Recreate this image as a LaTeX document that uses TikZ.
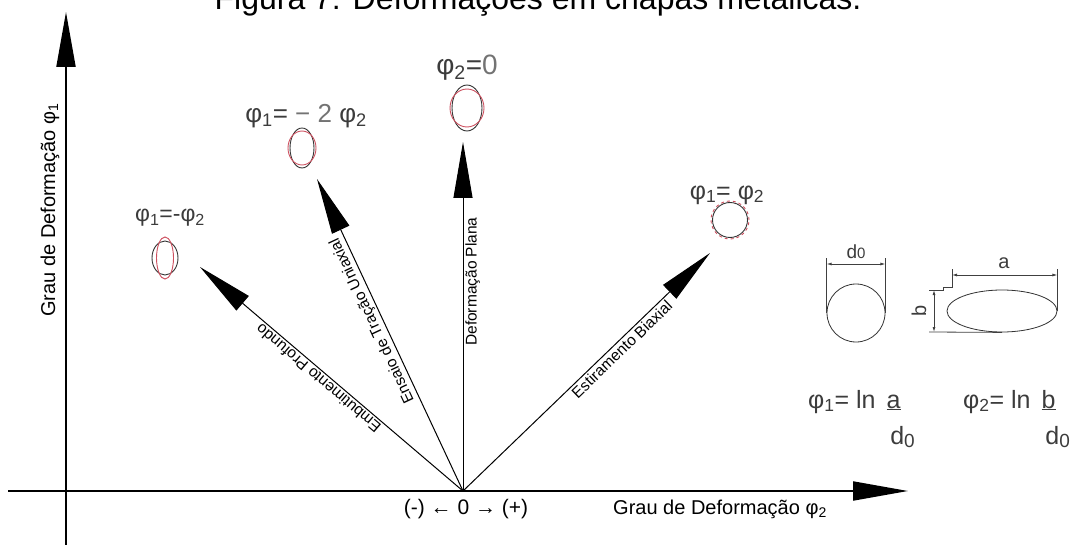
\documentclass[tikz,border=0pt]{standalone}
\usepackage{fontspec}
\setmainfont{Liberation Sans}
\usepackage{xcolor}
\usepackage{tikz}
\usetikzlibrary{arrows.meta, positioning, shapes.geometric}

\definecolor{ovalred}{RGB}{205,80,95}
\definecolor{labelgray}{RGB}{60,60,60}
\newcommand{\phis}[1]{φ\textsubscript{#1}}
\newcommand{\fsz}[1]{\fontsize{#1}{#1}\selectfont}

\begin{document}
\begin{tikzpicture}[x=1pt, y=-1pt,
    axis/.style={line width=2pt, -{Triangle[length=55pt, width=19pt]}},
    strain/.style={line width=1pt, -{Triangle[length=56pt, width=19pt]}},
    along/.style={font=\fsz{15.5}, sloped, allow upside down, inner sep=2pt},
    caselabel/.style={text=labelgray, inner sep=1pt},
    oval/.style={draw=black!80, ellipse, line width=0.9pt, inner sep=0pt},
    redoval/.style={oval, draw=ovalred},
    formula/.style={font=\fsz{25}, text=labelgray, inner sep=0pt},
    dim/.style={line width=0.8pt, black!75},
    dimarrow/.style={dim, {Latex[length=5pt, width=3pt]}-{Latex[length=5pt, width=3pt]}},
  ]
    \useasboundingbox (0,0) rectangle (1075,545);
    % ── Title (cut at the top edge) ──
    \node[font=\fsz{32}, anchor=base] (title) at (538,10) {Figura 7: Deformações em chapas metálicas.};

    % ── Axes ──
    \coordinate (o) at (463,491);
    \coordinate (xl) at (8,491);
    \coordinate (xr) at (908,491);
    \coordinate (yb) at (66,545);
    \coordinate (yt) at (66,12);
    \draw[axis] (xl) -- (xr);
    \draw[axis] (yb) -- (yt);
    \node[font=\fsz{20}, rotate=90] (ylab) at (50,210) {Grau de Deformação \phis{1}};
    \node[font=\fsz{20}] (xlab) at (720,509) {Grau de Deformação \phis{2}};
    \node[font=\fsz{21}] (sign) at (466,509) {(-) ← 0 → (+)};

    % ── Strain paths ──
    \coordinate (tEmb) at (200,267);
    \coordinate (tTra) at (317,179);
    \coordinate (tPla) at (463,142);
    \coordinate (tBia) at (710,253);
    \draw[strain] (o) -- (tEmb) node[along, pos=.53, anchor=south] (lEmb) {Embutimento Profundo};
    \draw[strain] (o) -- (tTra) node[along, pos=.56, anchor=south] (lTra) {Ensaio de Tração Uniaxial};
    \draw[strain] (o) -- (tPla) node[along, pos=.6, anchor=north] (lPla) {Deformação Plana};
    \draw[strain] (o) -- (tBia) node[along, pos=.62, anchor=north] (lBia) {Estiramento Biaxial};

    % ── Deformed circles ──
    \node[oval, minimum width=26pt, minimum height=34pt] (ovA) at (165,258) {};
    \node[redoval, minimum width=17pt, minimum height=42pt] (ovAr) at (165,258) {};
    \node[oval, minimum width=24pt, minimum height=40pt] (ovB) at (302,148) {};
    \node[redoval, minimum width=28pt, minimum height=34pt] (ovBr) at (302,148) {};
    \node[oval, minimum width=30pt, minimum height=46pt] (ovC) at (467,108) {};
    \node[redoval, minimum width=34pt, minimum height=38pt] (ovCr) at (467,108) {};
    \node[oval, circle, minimum size=35pt] (ovD) at (730,220) {};
    \node[redoval, circle, dashed, minimum size=38pt] (ovDr) at (730,220) {};

    \node[caselabel, font=\fsz{23}] (lblA) at (170,218) {\phis{1}=-\phis{2}};
    \node[caselabel, font=\fsz{26}] (lblB) at (306,116) {\phis{1}= {\color{black!55}− 2} \phis{2}};
    \node[caselabel, font=\fsz{28}] (lblC) at (467,68) {\phis{2}={\color{black!55} 0}};
    \node[caselabel, font=\fsz{25}] (lblD) at (727,195) {\phis{1}= \phis{2}};

    % ── Measuring the circle and the ellipse ──
    \node[draw=black!80, circle, minimum size=58pt, inner sep=0pt, line width=0.8pt] (dzero) at (856,313) {};
    \draw[dim] (dzero.west) -- ++(0,-55);
    \draw[dim] (dzero.east) -- ++(0,-55);
    \draw[dimarrow] (dzero.west |- 0,264) -- (dzero.east |- 0,264);
    \node[font=\fsz{19}, text=labelgray] (dzlab) at (856,252) {d{\fsz{15}0}};

    \node[draw=black!80, ellipse, minimum width=110pt, minimum height=42pt, inner sep=0pt, line width=0.8pt] (ell) at (1002,311) {};
    \draw[dim] (ell.east) -- ++(0,-42);
    \draw[dim] (952,269) -- (952,287) -- (943,287) -- (943,290) -- (929,290);
    \draw[dim] (ell.south) -- (929,332);
    \draw[dimarrow] (952,275) -- (ell.east |- 0,275);
    \draw[dimarrow] (934,290) -- (934,332);
    \node[font=\fsz{20}, text=labelgray] (alab) at (1004,263) {a};
    \node[font=\fsz{20}, text=labelgray, rotate=90] (blab) at (919,311) {b};

    % ── Formulas ──
    \node[formula, anchor=base west] (fOne) at (808,408) {\phis{1}= ln\hspace{4pt} \underline{a}};
    \node[formula, anchor=base east] (fOneD) at (915,444) {d{\fsz{19}\raisebox{-3pt}{0}}};
    \node[formula, anchor=base west] (fTwo) at (963,408) {\phis{2}= ln\hspace{4pt} \underline{b}};
    \node[formula, anchor=base east] (fTwoD) at (1070,444) {d{\fsz{19}\raisebox{-3pt}{0}}};
\end{tikzpicture}
\end{document}
